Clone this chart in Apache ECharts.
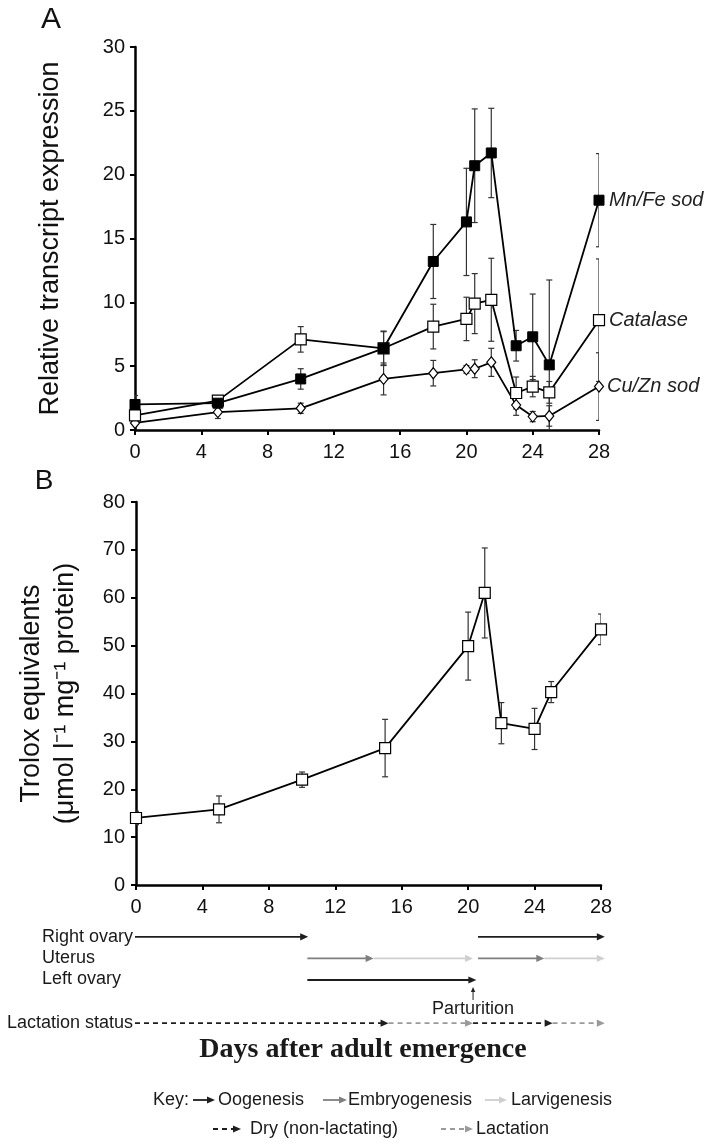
<!DOCTYPE html>
<html><head><meta charset="utf-8">
<script src="https://cdn.jsdelivr.net/npm/echarts/dist/echarts.min.js"></script>
<style>html,body{margin:0;padding:0;background:#fff}#c{width:717px;height:1145px}</style>
</head><body><div id="c"></div>
<script>
// ---------- Panel A data ----------
const daysA = [0, 5, 10, 15, 18, 20, 20.5, 21.5, 23, 24, 25, 28];
const mnfeSod = [2.0, 2.1, 4.0, 6.4, 13.2, 16.3, 20.7, 21.7, 6.6, 7.3, 5.1, 18.0];
const mnfeErr = [0.7, 0.5, 0.8, 1.35, 2.9, 4.2, 4.45, 3.5, 1.2, 3.35, 6.65, 3.65];
const catalase = [1.15, 2.3, 7.1, 6.4, 8.1, 8.7, 9.9, 10.2, 2.9, 3.4, 2.95, 8.6];
const catalaseErr = [0.3, 0.35, 1.0, 1.3, 1.75, 1.7, 2.35, 3.25, 1.25, 0.8, 0.85, 4.8];
const cuznSod = [0.55, 1.4, 1.7, 4.0, 4.45, 4.75, 4.8, 5.3, 1.95, 1.05, 1.1, 3.4];
const cuznErr = [0.2, 0.5, 0.4, 1.25, 1.0, 0.3, 0.7, 1.1, 0.8, 0.4, 0.8, 2.65];
const yTicksA = [0, 5, 10, 15, 20, 25, 30];

// ---------- Panel B data ----------
const daysB = [0, 5, 10, 15, 20, 21, 22, 24, 25, 28];
const trolox = [14.0, 15.8, 22.0, 28.6, 49.9, 61.0, 33.8, 32.6, 40.3, 53.4];
const troloxErr = [1.4, 2.8, 1.6, 6.0, 7.1, 9.4, 4.3, 4.3, 2.2, 3.2];
const yTicksB = [0, 10, 20, 30, 40, 50, 60, 70, 80];
const xTicks = [0, 4, 8, 12, 16, 20, 24, 28];

// ---------- Reproductive timeline ----------
const timelineRows = ['Right ovary', 'Uterus', 'Left ovary', 'Parturition', 'Lactation status'];
const segStart = [0, 20.7, 10.4, 14.4, 20.7, 24.7, 10.4, 0, 15.3, 20.4, 25.2];
const segEnd   = [10.45, 28.35, 14.4, 20.4, 24.7, 28.35, 20.6, 15.3, 20.4, 25.2, 28.35];
const segRow   = ['Right ovary', 'Right ovary', 'Uterus', 'Uterus', 'Uterus', 'Uterus', 'Left ovary',
                  'Lactation status', 'Lactation status', 'Lactation status', 'Lactation status'];
const segKind  = ['Oogenesis', 'Oogenesis', 'Embryogenesis', 'Larvigenesis', 'Embryogenesis', 'Larvigenesis', 'Oogenesis',
                  'Dry (non-lactating)', 'Lactation', 'Dry (non-lactating)', 'Lactation'];
const parturitionDay = [20.4];

const kindStyle = {
  'Oogenesis': {color: '#1e1e1e', dash: null},
  'Embryogenesis': {color: '#7f7f7f', dash: null},
  'Larvigenesis': {color: '#cfcfcf', dash: null},
  'Dry (non-lactating)': {color: '#1e1e1e', dash: [5, 4]},
  'Lactation': {color: '#9a9a9a', dash: [5, 4]}
};

const FONT = 'Liberation Sans, Arial, sans-serif';
const chart = echarts.init(document.getElementById('c'), null, {renderer: 'canvas'});

function errRender(params, api) {
  const x = api.value(0), lo = api.value(1), hi = api.value(2);
  const p1 = api.coord([x, lo]), p2 = api.coord([x, hi]);
  const w = 3;
  const style = {stroke: '#333', lineWidth: 1.2};
  return {type: 'group', children: [
    {type: 'line', shape: {x1: p1[0], y1: p1[1], x2: p2[0], y2: p2[1]}, style: style},
    {type: 'line', shape: {x1: p1[0] - w, y1: p1[1], x2: p1[0] + w, y2: p1[1]}, style: style},
    {type: 'line', shape: {x1: p2[0] - w, y1: p2[1], x2: p2[0] + w, y2: p2[1]}, style: style}
  ]};
}
function errData(days, vals, errs) {
  return days.map((d, i) => [d, vals[i] - errs[i], vals[i] + errs[i]]);
}

function arrowShapes(x1, y1, x2, y2, color, dash) {
  const hl = 8, hw = 3.6;
  return [
    {type: 'line', shape: {x1: x1, y1: y1, x2: x2 - hl + 1, y2: y2}, style: {stroke: color, lineWidth: 1.8, lineDash: dash}},
    {type: 'polygon', shape: {points: [[x2, y2], [x2 - hl, y2 - hw], [x2 - hl, y2 + hw]]}, style: {fill: color}}
  ];
}

function segRender(params, api) {
  const s = api.value(0), e = api.value(1), r = api.value(2);
  const st = kindStyle[segKind[params.dataIndex]];
  const p0 = api.coord([s, r]), p1 = api.coord([e, r]);
  return {type: 'group', children: arrowShapes(p0[0], p0[1], p1[0], p1[1], st.color, st.dash)};
}

function partRender(params, api) {
  const d = api.value(0);
  const pRow = api.coord([d, timelineRows.indexOf('Left ovary')]);
  const tip = pRow[1] + 7, bottom = tip + 13;
  return {type: 'group', children: [
    {type: 'line', shape: {x1: pRow[0], y1: bottom, x2: pRow[0], y2: tip + 3}, style: {stroke: '#222', lineWidth: 1}},
    {type: 'polygon', shape: {points: [[pRow[0], tip], [pRow[0] - 2.2, tip + 5], [pRow[0] + 2.2, tip + 5]]}, style: {fill: '#222'}},
    {type: 'text', x: pRow[0], y: bottom + 9, style: {text: 'Parturition', font: '18px ' + FONT, fill: '#1a1a1a', align: 'center', verticalAlign: 'middle'}}
  ]};
}

const axisLineStyle = {color: '#000', width: 2.5};
function valueXAxis(gridIndex) {
  return {
    type: 'value', gridIndex: gridIndex, min: 0, max: 28, interval: 4,
    axisLine: {show: true, onZero: false, lineStyle: axisLineStyle},
    axisTick: {show: true, length: 5, lineStyle: {color: '#000', width: 2}},
    axisLabel: {show: true, fontSize: 20, fontFamily: FONT, color: '#111', margin: 12,
      formatter: v => xTicks.indexOf(v) >= 0 ? String(v) : ''},
    splitLine: {show: false}
  };
}

const option = {
  animation: false,
  backgroundColor: '#fff',
  grid: [
    {left: 135, top: 47, width: 464, height: 383},
    {left: 136, top: 502, width: 465, height: 383},
    {left: 135, top: 926, width: 464, height: 108}
  ],
  xAxis: [
    valueXAxis(0),
    valueXAxis(1),
    {type: 'value', gridIndex: 2, min: 0, max: 28, show: false}
  ],
  yAxis: [
    {type: 'value', gridIndex: 0, min: 0, max: 30, interval: 5,
      name: 'Relative transcript expression', nameLocation: 'middle', nameGap: 71, nameRotate: 90,
      nameTextStyle: {fontSize: 27, fontFamily: FONT, color: '#111'},
      axisLine: {show: true, lineStyle: axisLineStyle},
      axisTick: {show: true, length: 5, lineStyle: {color: '#000', width: 2}},
      axisLabel: {fontSize: 20, fontFamily: FONT, color: '#111', margin: 10,
        formatter: v => yTicksA.indexOf(v) >= 0 ? String(v) : ''},
      splitLine: {show: false}},
    {type: 'value', gridIndex: 1, min: 0, max: 80, interval: 10,
      name: 'Trolox equivalents\n(\u03bcmol l\u207b\u00b9 mg\u207b\u00b9 protein)', nameLocation: 'middle', nameGap: 53, nameRotate: 90,
      nameTextStyle: {fontSize: 27, fontFamily: FONT, color: '#111', lineHeight: 34},
      axisLine: {show: true, lineStyle: axisLineStyle},
      axisTick: {show: true, length: 5, lineStyle: {color: '#000', width: 2}},
      axisLabel: {fontSize: 20, fontFamily: FONT, color: '#111', margin: 11,
        formatter: v => yTicksB.indexOf(v) >= 0 ? String(v) : ''},
      splitLine: {show: false}},
    {type: 'category', gridIndex: 2, data: timelineRows, inverse: true, show: false}
  ],
  graphic: [
    {type: 'text', x: 51, y: 20, style: {text: 'A', font: '30px ' + FONT, fill: '#111', align: 'center', verticalAlign: 'middle'}},
    {type: 'text', x: 44, y: 481, style: {text: 'B', font: '28px ' + FONT, fill: '#111', align: 'center', verticalAlign: 'middle'}},
    {type: 'text', x: 42, y: 937, style: {text: 'Right ovary', font: '18px ' + FONT, fill: '#1a1a1a', verticalAlign: 'middle'}},
    {type: 'text', x: 42, y: 958, style: {text: 'Uterus', font: '18px ' + FONT, fill: '#1a1a1a', verticalAlign: 'middle'}},
    {type: 'text', x: 42, y: 979, style: {text: 'Left ovary', font: '18px ' + FONT, fill: '#1a1a1a', verticalAlign: 'middle'}},
    {type: 'text', x: 133, y: 1023, style: {text: 'Lactation status', font: '18px ' + FONT, fill: '#1a1a1a', align: 'right', verticalAlign: 'middle'}},
    {type: 'text', x: 363, y: 1050, style: {text: 'Days after adult emergence', font: 'bold 28px Liberation Serif, Times New Roman, serif', fill: '#1a1a1a', align: 'center', verticalAlign: 'middle'}},
    // key
    {type: 'text', x: 153, y: 1100, style: {text: 'Key:', font: '18px ' + FONT, fill: '#1a1a1a', verticalAlign: 'middle'}},
    {type: 'group', children: arrowShapes(193, 1100, 215, 1100, kindStyle['Oogenesis'].color, null)},
    {type: 'text', x: 218, y: 1100, style: {text: 'Oogenesis', font: '18px ' + FONT, fill: '#1a1a1a', verticalAlign: 'middle'}},
    {type: 'group', children: arrowShapes(323, 1100, 347, 1100, kindStyle['Embryogenesis'].color, null)},
    {type: 'text', x: 348, y: 1100, style: {text: 'Embryogenesis', font: '18px ' + FONT, fill: '#1a1a1a', verticalAlign: 'middle'}},
    {type: 'group', children: arrowShapes(485, 1100, 507, 1100, kindStyle['Larvigenesis'].color, null)},
    {type: 'text', x: 511, y: 1100, style: {text: 'Larvigenesis', font: '18px ' + FONT, fill: '#1a1a1a', verticalAlign: 'middle'}},
    {type: 'group', children: arrowShapes(213, 1129, 241, 1129, kindStyle['Dry (non-lactating)'].color, [5, 4])},
    {type: 'text', x: 250, y: 1129, style: {text: 'Dry (non-lactating)', font: '18px ' + FONT, fill: '#1a1a1a', verticalAlign: 'middle'}},
    {type: 'group', children: arrowShapes(441, 1129, 473, 1129, kindStyle['Lactation'].color, [5, 4])},
    {type: 'text', x: 476, y: 1129, style: {text: 'Lactation', font: '18px ' + FONT, fill: '#1a1a1a', verticalAlign: 'middle'}}
  ],
  series: [
    // error bars A
    {type: 'custom', xAxisIndex: 0, yAxisIndex: 0, renderItem: errRender, clip: true, z: 1,
      data: errData(daysA, cuznSod, cuznErr), encode: {x: 0, y: [1, 2]}},
    {type: 'custom', xAxisIndex: 0, yAxisIndex: 0, renderItem: errRender, clip: true, z: 1,
      data: errData(daysA, catalase, catalaseErr), encode: {x: 0, y: [1, 2]}},
    {type: 'custom', xAxisIndex: 0, yAxisIndex: 0, renderItem: errRender, clip: true, z: 1,
      data: errData(daysA, mnfeSod, mnfeErr), encode: {x: 0, y: [1, 2]}},
    // lines A
    {name: 'Cu/Zn sod', type: 'line', xAxisIndex: 0, yAxisIndex: 0, z: 3,
      data: daysA.map((d, i) => [d, cuznSod[i]]),
      symbol: 'diamond', symbolSize: [9, 11], showAllSymbol: true,
      lineStyle: {color: '#000', width: 1.8},
      itemStyle: {color: '#fff', borderColor: '#000', borderWidth: 1.2},
      endLabel: {show: true, formatter: '{a}', fontSize: 20, fontStyle: 'italic', fontFamily: FONT, color: '#222', distance: 8}},
    {name: 'Catalase', type: 'line', xAxisIndex: 0, yAxisIndex: 0, z: 4,
      data: daysA.map((d, i) => [d, catalase[i]]),
      symbol: 'rect', symbolSize: 11, showAllSymbol: true,
      lineStyle: {color: '#000', width: 1.8},
      itemStyle: {color: '#fff', borderColor: '#000', borderWidth: 1.2},
      endLabel: {show: true, formatter: '{a}', fontSize: 20, fontStyle: 'italic', fontFamily: FONT, color: '#222', distance: 10}},
    {name: 'Mn/Fe sod', type: 'line', xAxisIndex: 0, yAxisIndex: 0, z: 5,
      data: daysA.map((d, i) => [d, mnfeSod[i]]),
      symbol: 'rect', symbolSize: 10, showAllSymbol: true,
      lineStyle: {color: '#000', width: 1.8},
      itemStyle: {color: '#000', borderColor: '#000', borderWidth: 1},
      endLabel: {show: true, formatter: '{a}', fontSize: 20, fontStyle: 'italic', fontFamily: FONT, color: '#222', distance: 10}},
    // panel B
    {type: 'custom', xAxisIndex: 1, yAxisIndex: 1, renderItem: errRender, clip: true, z: 1,
      data: errData(daysB, trolox, troloxErr), encode: {x: 0, y: [1, 2]}},
    {name: 'Trolox equivalents', type: 'line', xAxisIndex: 1, yAxisIndex: 1, z: 3,
      data: daysB.map((d, i) => [d, trolox[i]]),
      symbol: 'rect', symbolSize: 11, showAllSymbol: true,
      lineStyle: {color: '#000', width: 1.8},
      itemStyle: {color: '#fff', borderColor: '#000', borderWidth: 1.2}},
    // timeline
    {type: 'custom', xAxisIndex: 2, yAxisIndex: 2, renderItem: segRender, clip: false,
      data: segStart.map((s, i) => [s, segEnd[i], timelineRows.indexOf(segRow[i])]),
      encode: {x: [0, 1], y: 2}},
    {type: 'custom', xAxisIndex: 2, yAxisIndex: 2, renderItem: partRender, clip: false,
      data: parturitionDay.map(d => [d, timelineRows.indexOf('Parturition')]),
      encode: {x: 0, y: 1}}
  ]
};
chart.setOption(option);
</script>
</body></html>
